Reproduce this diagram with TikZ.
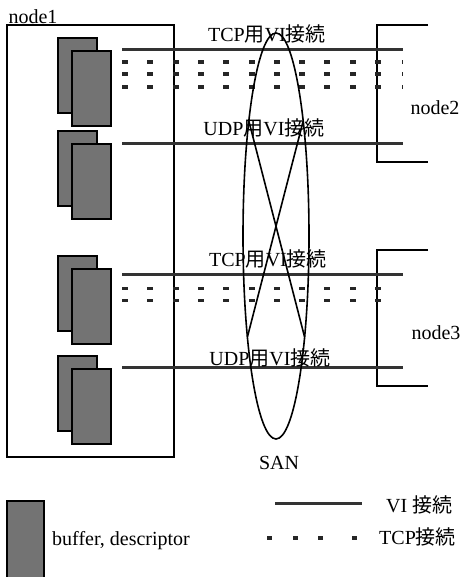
\documentclass[tikz,border=0pt]{standalone}
\usepackage{fontspec}
\setmainfont{Liberation Serif}
\newfontfamily\jpfont{Noto Sans CJK JP}
\newcommand{\jp}[1]{{\jpfont #1}}
\begin{document}
\begin{tikzpicture}[x=1pt, y=-1pt, every node/.style={font=\fontsize{20}{24}\selectfont, inner sep=0pt}]
  \tikzset{
    vi/.style={draw=black!80, line width=3pt},
    tcpdash/.style={fill=black!85},
    buf/.style={draw=black, line width=1.5pt, fill=black!55},
    frame/.style={draw=black, line width=1.3pt}
  }
  \useasboundingbox (0,0) rectangle (464,577);

  \draw[frame] (7,25) rectangle (174,457);
  \node (n1) at (33,17) {node1};

  \foreach \y in {38,131,256,356}{
    \draw[buf] (58,\y) rectangle (97,\y+75);
    \draw[buf] (72,\y+13) rectangle (111,\y+88);
  }

  \draw[frame] (428,25) -- (377,25) -- (377,162) -- (428,162);
  \draw[frame] (428,250) -- (377,250) -- (377,386) -- (428,386);
  \node (n2) at (435,108) {node2};
  \node (n3) at (436,333) {node3};

  \foreach \name/\y in {t1/50, u1/144, t2/274, u2/367}{
    \coordinate (\name a) at (122,\y);
    \coordinate (\name b) at (403,\y);
    \draw[vi] (\name a) -- (\name b);
  }

  \foreach \y in {62,74,87,288,300}
    \foreach \k in {0,...,10}
      \fill[tcpdash] (122+25.3*\k,\y-1.5) rectangle ++(6,3.5);
  \foreach \y in {62,74,87}
    \fill[tcpdash] (401.5,\y-1.5) rectangle ++(1.3,3.5);

  \node (tcp1) at (267,34) {TCP\jp{用}VI\jp{接続}};
  \node (udp1) at (264,128) {UDP\jp{用}VI\jp{接続}};
  \node (tcp2) at (268,259) {TCP\jp{用}VI\jp{接続}};
  \node (udp2) at (270,358) {UDP\jp{用}VI\jp{接続}};

  \draw[line width=1.6pt] (276,236) ellipse (33 and 203);
  \coordinate (xtl) at (248.8,121);
  \coordinate (xtr) at (303.2,121);
  \coordinate (xbl) at (247.4,337);
  \coordinate (xbr) at (304.6,337);
  \draw[line width=1.6pt] (xtl) -- (xbr);
  \draw[line width=1.6pt] (xtr) -- (xbl);
  \node (san) at (279,463) {SAN};

  \draw[buf] (7,501) rectangle (44,580);
  \node[anchor=west] (bufl) at (52,541) {buffer, descriptor};
  \coordinate (lva) at (275,503);
  \coordinate (lvb) at (362,503);
  \draw[vi] (lva) -- (lvb);
  \node[anchor=west] (lvi) at (386,505) {VI \jp{接続}};
  \foreach \x in {267,293,318,352}
    \fill[tcpdash] (\x,536) rectangle ++(5,3.5);
  \node[anchor=west] (ltcp) at (379,537) {TCP\jp{接続}};
\end{tikzpicture}
\end{document}
